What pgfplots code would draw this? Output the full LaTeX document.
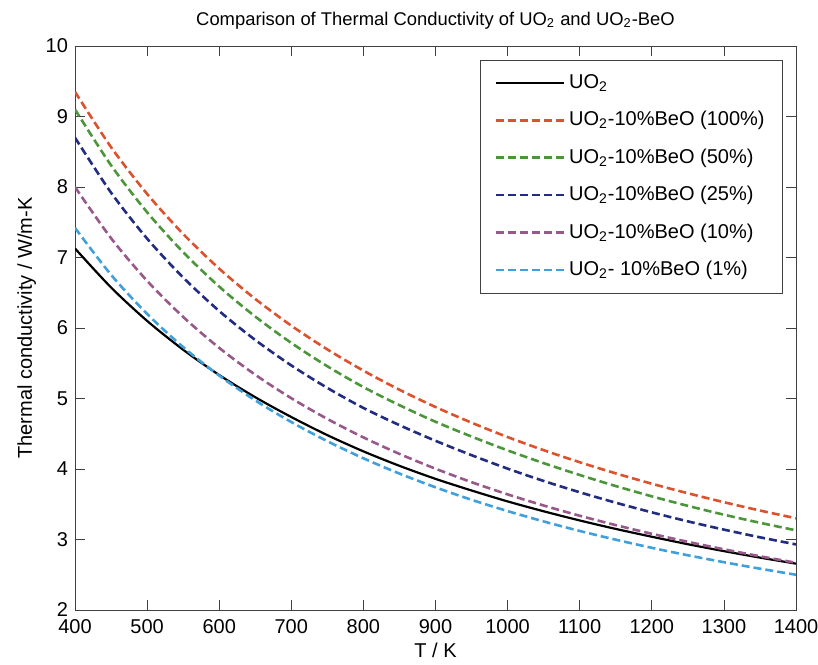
\documentclass[border=0pt]{standalone}
\usepackage{pgfplots}
\pgfplotsset{compat=1.18}
\usepackage{fontspec}
\setmainfont{Liberation Sans}
\definecolor{cred}{RGB}{220,82,44}
\definecolor{cgreen}{RGB}{76,150,58}
\definecolor{cdblue}{RGB}{34,44,128}
\definecolor{cpurple}{RGB}{152,88,138}
\definecolor{clblue}{RGB}{64,160,220}
\pgfplotstableread{
T uo r g db p lb
400 7.128 9.350 9.100 8.700 8.000 7.420
450 6.575 8.565 8.308 7.920 7.274 6.755
500 6.101 7.902 7.642 7.268 6.669 6.200
550 5.692 7.334 7.076 6.716 6.157 5.729
600 5.333 6.842 6.587 6.241 5.718 5.325
650 5.018 6.412 6.162 5.830 5.337 4.973
700 4.737 6.033 5.788 5.469 5.004 4.666
750 4.480 5.696 5.457 5.150 4.710 4.394
800 4.250 5.395 5.162 4.866 4.448 4.152
850 4.045 5.124 4.905 4.622 4.214 3.935
900 3.860 4.879 4.670 4.400 4.004 3.740
950 3.695 4.657 4.460 4.196 3.813 3.563
1000 3.540 4.453 4.264 4.005 3.640 3.403
1050 3.400 4.267 4.083 3.830 3.482 3.256
1100 3.270 4.096 3.915 3.670 3.337 3.121
1150 3.150 3.938 3.758 3.522 3.204 2.997
1200 3.039 3.791 3.612 3.385 3.081 2.882
1250 2.933 3.656 3.477 3.257 2.967 2.776
1300 2.835 3.529 3.352 3.140 2.861 2.678
1350 2.743 3.411 3.237 3.031 2.762 2.586
1400 2.657 3.301 3.130 2.930 2.670 2.500
}\data
\begin{document}
\begin{tikzpicture}
\begin{axis}[
  scale only axis,
  width=360.5pt, height=282pt,
  xmin=400, xmax=1400, ymin=2, ymax=10,
  xtick={400,500,...,1400}, ytick={2,3,...,10},
  tick align=inside,
  major tick length=5pt,
  axis line style={black!75},
  every tick/.style={black!75},
  /pgf/number format/assume math mode=true,
  /pgf/number format/1000 sep={},
  tick label style={font=\fontsize{10}{12}\selectfont},
  xticklabel style={yshift=-1.2pt},
  title={Comparison of Thermal Conductivity of UO\textsubscript{2} and UO\textsubscript{2}-BeO},
  title style={font=\fontsize{9.2}{11}\selectfont, yshift=-1pt},
  xlabel={T / K}, ylabel={Thermal conductivity / W/m-K},
  label style={font=\fontsize{10}{12}\selectfont},
  xlabel style={yshift=2pt},
  ylabel style={yshift=-2pt},
  legend style={font=\fontsize{10}{12}\selectfont, draw=black!75, at={(0.982,0.975)}, anchor=north east,
    row sep=6pt, inner xsep=7pt, inner ysep=5pt, cells={anchor=west}},
  legend image code/.code={\path (0pt,0pt) -- (34pt,0pt); \draw[#1] plot coordinates {(0pt,0pt) (30pt,0pt)};},
  every axis plot/.append style={line width=1.3pt, smooth},
]
\addplot[black, line width=1.1pt] table[x=T,y=uo]{\data};
\addlegendentry{UO\textsubscript{2}}
\addplot[cred, dash pattern=on 4pt off 2pt] table[x=T,y=r]{\data};
\addlegendentry{UO\textsubscript{2}-10\%BeO (100\%)}
\addplot[cgreen, dash pattern=on 4pt off 2pt] table[x=T,y=g]{\data};
\addlegendentry{UO\textsubscript{2}-10\%BeO (50\%)}
\addplot[cdblue, dash pattern=on 4pt off 2pt] table[x=T,y=db]{\data};
\addlegendentry{UO\textsubscript{2}-10\%BeO (25\%)}
\addplot[cpurple, dash pattern=on 4pt off 2pt] table[x=T,y=p]{\data};
\addlegendentry{UO\textsubscript{2}-10\%BeO (10\%)}
\addplot[clblue, dash pattern=on 4pt off 2pt] table[x=T,y=lb]{\data};
\addlegendentry{UO\textsubscript{2}- 10\%BeO (1\%)}
\end{axis}
\pgfresetboundingbox
\path[use as bounding box] ([shift={(-37.5pt,-27.5pt)}]current axis.south west) rectangle ([shift={(11pt,23pt)}]current axis.north east);
\end{tikzpicture}
\end{document}
